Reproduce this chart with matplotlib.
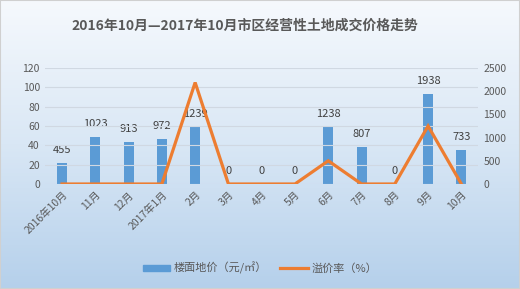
import matplotlib
matplotlib.use("Agg")
import matplotlib.pyplot as plt
import numpy as np
from matplotlib.colors import LinearSegmentedColormap

plt.rcParams['font.family'] = ['Noto Sans CJK SC', 'DejaVu Sans']

categories = ['2016年10月', '11月', '12月', '2017年1月', '2月', '3月', '4月', '5月',
              '6月', '7月', '8月', '9月', '10月']
floor_price = [455, 1023, 913, 972, 1239, 0, 0, 0, 1238, 807, 0, 1938, 733]
premium_rate = [0, 0, 0, 0, 105, 0, 0, 0, 24, 0, 0, 60, 0]
title = '2016年10月—2017年10月市区经营性土地成交价格走势'
bar_name = '楼面地价（元/㎡）'
line_name = '溢价率（%）'

fig = plt.figure(figsize=(5.2, 2.89), dpi=100)

# background gradient
bg = fig.add_axes([0, 0, 1, 1], zorder=-10)
cmap = LinearSegmentedColormap.from_list('bg', ['#f6f9fd', '#d9e7f5', '#b5d0eb'])
grad = np.linspace(0, 1, 256).reshape(-1, 1)
bg.imshow(grad, aspect='auto', cmap=cmap, extent=[0, 1, 0, 1], origin='upper')
bg.set_axis_off()
bg.add_patch(plt.Rectangle((0, 0), 1, 1, fill=False, edgecolor='#d0d0d0', lw=1.5, transform=bg.transAxes))

W, H = 520, 289
left, right, top, bottom = 45.4, 478, 68, 184
ax = fig.add_axes([left / W, 1 - bottom / H, (right - left) / W, (bottom - top) / H])
ax.patch.set_alpha(0)
ax2 = ax.twinx()

x = np.arange(len(categories))
tc = '#595959'

# left axis: premium rate line; right axis: bars
ax.set_ylim(0, 120)
ax.set_yticks(range(0, 121, 20))
ax.grid(axis='y', color='#d0d8e2', lw=0.8)
ax.set_axisbelow(True)
ax2.set_ylim(0, 2500)
ax2.set_yticks(range(0, 2501, 500))

bars = ax2.bar(x, floor_price, width=0.3, color='#5b9bd5', zorder=2)
for xi, v in zip(x, floor_price):
    ax2.text(xi, v + 170, str(v), ha='center', va='bottom', fontsize=8, color='#404040')

ax.set_zorder(ax2.get_zorder() + 1)
ax.plot(x, premium_rate, color='#ed7d31', lw=2.3, solid_joinstyle='miter', zorder=3)

ax.set_xlim(-0.5, len(categories) - 0.5)
ax.set_xticks(x)
ax.set_xticklabels(categories, rotation=45, ha='right', rotation_mode='anchor', fontsize=7, color=tc)
for a in (ax, ax2):
    for s in a.spines.values():
        s.set_visible(False)
    a.tick_params(length=0, labelsize=7.5, colors=tc)
ax.tick_params(axis='y', pad=4)
ax2.tick_params(axis='y', pad=4)
ax.tick_params(axis='x', pad=4)

fig.text(245 / W, 1 - 26 / H, title, ha='center', va='center', fontsize=10,
         fontweight='bold', color='#595959')

# legend
from matplotlib.patches import Patch
from matplotlib.lines import Line2D
handles = [Patch(color='#5b9bd5'), Line2D([0], [0], color='#ed7d31', lw=2.3)]
fig.legend(handles, [bar_name, line_name], loc='center', bbox_to_anchor=(260 / W, 1 - 268 / H),
           ncol=2, frameon=False, fontsize=8, labelcolor=tc, handlelength=2.5,
           handleheight=0.5, columnspacing=1.2, handletextpad=0.3)

fig.savefig('out.png', dpi=100)
